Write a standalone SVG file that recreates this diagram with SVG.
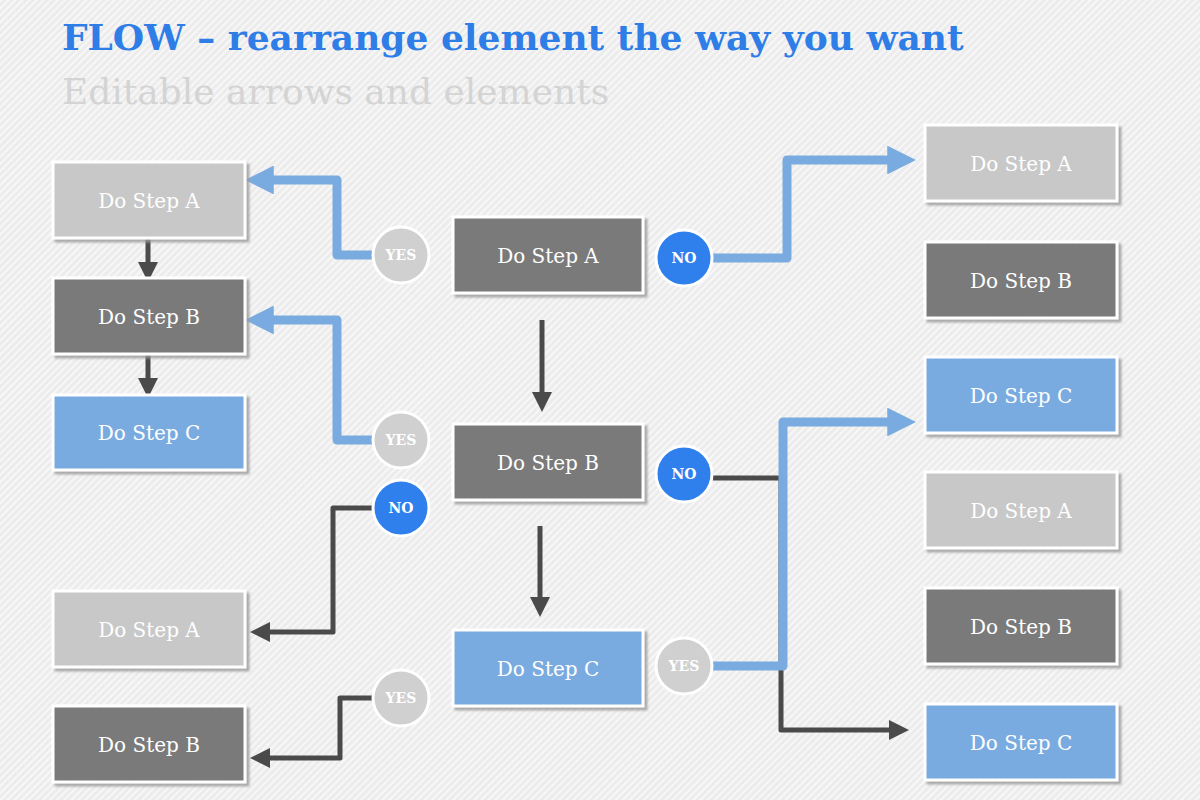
<svg xmlns="http://www.w3.org/2000/svg" width="1200" height="800" viewBox="0 0 1200 800">
<defs>
<pattern id="hatch" width="5" height="5" patternUnits="userSpaceOnUse" patternTransform="rotate(45)">
<rect width="5" height="5" fill="#ececec"/><rect width="2" height="5" fill="#f7f7f7"/>
</pattern>
<filter id="sh" x="-10%" y="-10%" width="130%" height="140%"><feDropShadow dx="3" dy="3" stdDeviation="0.8" flood-color="#999" flood-opacity="0.8"/></filter>
<marker id="ab" viewBox="0 0 10 10" refX="2" refY="5" markerWidth="3.2" markerHeight="3.2" orient="auto" markerUnits="strokeWidth"><path d="M0,0 L10,5 L0,10 Z" fill="#7aabe0"/></marker>
<marker id="ad" viewBox="0 0 10 10" refX="2" refY="5" markerWidth="4" markerHeight="4" orient="auto" markerUnits="strokeWidth"><path d="M0,0 L10,5 L0,10 Z" fill="#4a4a4a"/></marker>
</defs>
<style>
.box{stroke:#fff;stroke-width:3;filter:url(#sh)}
.l{fill:#c8c8c8}.d{fill:#7a7a7a}.b{fill:#7aabe0}
.t{font-family:"DejaVu Serif","Liberation Serif",serif;font-size:20px;fill:#fff;text-anchor:middle}
.lt{fill:#f0f0f0}
.c{stroke:#fff;stroke-width:3}
.cg{fill:#d0d0d0}.cb{fill:#2f80ed}
.ct{font-family:"DejaVu Serif",serif;font-weight:bold;font-size:14px;fill:#fff;text-anchor:middle}
.bl{fill:none;stroke:#7aabe0;stroke-width:9;stroke-linejoin:round;marker-end:url(#ab)}
.dk{fill:none;stroke:#4a4a4a;stroke-width:5;stroke-linejoin:round;marker-end:url(#ad)}
.dn{fill:none;stroke:#4a4a4a;stroke-width:5}
</style>
<rect width="1200" height="800" fill="url(#hatch)"/>
<text x="62" y="50" font-family="DejaVu Serif,serif" font-weight="bold" font-size="36" fill="#2f7de6">FLOW – rearrange element the way you want</text>
<text x="62" y="104" font-family="DejaVu Serif,serif" font-size="36" fill="#d4d4d4">Editable arrows and elements</text>
<g id="connectors">
<path class="bl" d="M373,255 H337 V180 H268"/>
<path class="bl" d="M373,440 H337 V320 H268"/>
<path class="dk" d="M373,508 H333 V632 H266"/>
<path class="dk" d="M373,698 H340 V758 H266"/>
<path class="bl" d="M712,258 H787 V160 H893"/>
<path class="dk" d="M712,478 H781 V730 H893"/>
<path class="bl" d="M712,666 H783 V422 H893"/>
<path class="dk" d="M148,238 V266"/>
<path class="dk" d="M148,354 V382"/>
<path class="dk" d="M542,320 V396"/>
<path class="dk" d="M540,526 V601"/>
</g>
<g id="lA"><rect class="box l" x="53" y="162" width="192" height="76"/><text class="t" x="149" y="208">Do Step A</text></g>
<g id="lB"><rect class="box d" x="53" y="278" width="192" height="76"/><text class="t" x="149" y="324">Do Step B</text></g>
<g id="lC"><rect class="box b" x="53" y="395" width="192" height="75"/><text class="t" x="149" y="440">Do Step C</text></g>
<g id="lA2"><rect class="box l" x="53" y="591" width="192" height="76"/><text class="t" x="149" y="637">Do Step A</text></g>
<g id="lB2"><rect class="box d" x="53" y="706" width="192" height="76"/><text class="t" x="149" y="752">Do Step B</text></g>
<g id="cA"><rect class="box d" x="453" y="217" width="190" height="76"/><text class="t" x="548" y="263">Do Step A</text></g>
<g id="cB"><rect class="box d" x="453" y="424" width="190" height="76"/><text class="t" x="548" y="470">Do Step B</text></g>
<g id="cC"><rect class="box b" x="453" y="630" width="190" height="76"/><text class="t" x="548" y="676">Do Step C</text></g>
<g id="rA"><rect class="box l" x="925" y="125" width="192" height="76"/><text class="t" x="1021" y="171">Do Step A</text></g>
<g id="rB"><rect class="box d" x="925" y="242" width="192" height="76"/><text class="t" x="1021" y="288">Do Step B</text></g>
<g id="rC"><rect class="box b" x="925" y="357" width="192" height="76"/><text class="t" x="1021" y="403">Do Step C</text></g>
<g id="rA2"><rect class="box l" x="925" y="472" width="192" height="76"/><text class="t" x="1021" y="518">Do Step A</text></g>
<g id="rB2"><rect class="box d" x="925" y="588" width="192" height="76"/><text class="t" x="1021" y="634">Do Step B</text></g>
<g id="rC2"><rect class="box b" x="925" y="704" width="192" height="76"/><text class="t" x="1021" y="750">Do Step C</text></g>
<g id="y1"><circle class="c cg" cx="401" cy="255" r="28"/><text class="ct" x="401" y="260">YES</text></g>
<g id="y2"><circle class="c cg" cx="401" cy="440" r="28"/><text class="ct" x="401" y="445">YES</text></g>
<g id="n1"><circle class="c cb" cx="401" cy="508" r="28"/><text class="ct" x="401" y="513">NO</text></g>
<g id="y3"><circle class="c cg" cx="401" cy="698" r="28"/><text class="ct" x="401" y="703">YES</text></g>
<g id="n2"><circle class="c cb" cx="684" cy="258" r="28"/><text class="ct" x="684" y="263">NO</text></g>
<g id="n3"><circle class="c cb" cx="684" cy="474" r="28"/><text class="ct" x="684" y="479">NO</text></g>
<g id="y4"><circle class="c cg" cx="684" cy="666" r="28"/><text class="ct" x="684" y="671">YES</text></g>
</svg>
